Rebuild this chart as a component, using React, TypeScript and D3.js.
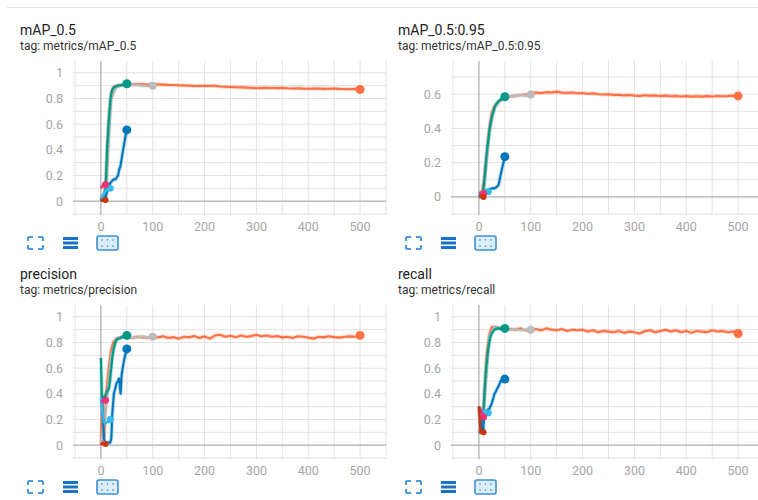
import * as d3 from "d3";

// run colours (TensorBoard palette)
const COLORS = {
  orange: "#ff7043",
  gray: "#bbbbbb",
  teal: "#009988",
  blue: "#0077bb",
  lightBlue: "#33bbee",
  pink: "#ee3377",
  red: "#cc3311",
};

const EPOCHS_LONG = [0, 3, 6, 10, 15, 20, 25, ...d3.range(30, 501, 10)];
const EPOCHS_GRAY = [0, 10, 20, 30, 40, 50, 60, 70, 80, 90, 100];
const EPOCHS_SHORT = [0, 2, 4, 6, 8, 10, 12, 14, 16, 18, 20, 22, 25, 28, 30, 33, 35, 38, 40, 42, 45, 48, 50];
const EPOCHS_LIGHT = [0, 3, 6, 9, 12, 15, 18];
const EPOCHS_TINY = [0, 3, 6, 9];

const X_TICKS = [0, 100, 200, 300, 400, 500];

// ---- mAP_0.5
const map50Orange = [0.0, 0.01, 0.03, 0.15, 0.62, 0.84, 0.89,
  0.9, 0.905, 0.91, 0.91, 0.912, 0.91, 0.908, 0.912,
  0.91, 0.908, 0.906, 0.905, 0.903, 0.902, 0.9, 0.898, 0.897, 0.899,
  0.897, 0.9, 0.894, 0.892, 0.89, 0.888, 0.887, 0.885, 0.883, 0.88,
  0.882, 0.884, 0.882, 0.881, 0.883, 0.88, 0.878, 0.879, 0.877, 0.876,
  0.878, 0.877, 0.875, 0.876, 0.877, 0.875, 0.874, 0.872, 0.875, 0.87];
const map50Gray = [0, 0.1, 0.8, 0.89, 0.9, 0.905, 0.91, 0.905, 0.9, 0.895, 0.9];
const map50Teal = [0.0, 0.01, 0.01, 0.02, 0.05, 0.2, 0.42, 0.55, 0.68, 0.78, 0.84, 0.87, 0.885, 0.893, 0.896, 0.9, 0.902, 0.904, 0.905, 0.907, 0.91, 0.915, 0.915];
const map50Blue = [0.01, 0.02, 0.02, 0.02, 0.03, 0.04, 0.08, 0.1, 0.12, 0.14, 0.15, 0.16, 0.17, 0.17, 0.18, 0.2, 0.24, 0.28, 0.33, 0.38, 0.45, 0.52, 0.555];
const map50LightBlue = [0.02, 0.04, 0.06, 0.08, 0.09, 0.1, 0.1];
const map50Pink = [0.1, 0.12, 0.13, 0.13];
const map50Red = [0.0, 0.01, 0.01, 0.01];

// ---- mAP_0.5:0.95
const map5095Orange = [0, 0.005, 0.02, 0.1, 0.25, 0.4, 0.49,
  0.53, 0.56, 0.578, 0.585, 0.59, 0.595, 0.598, 0.605,
  0.61, 0.607, 0.612, 0.61, 0.615, 0.61, 0.608, 0.61, 0.606, 0.607,
  0.603, 0.605, 0.6, 0.598, 0.6, 0.596, 0.597, 0.593, 0.595, 0.592,
  0.59, 0.594, 0.591, 0.593, 0.59, 0.592, 0.588, 0.59, 0.587, 0.589,
  0.586, 0.588, 0.586, 0.589, 0.587, 0.59, 0.588, 0.589, 0.591, 0.59];
const map5095Gray = [0, 0.05, 0.38, 0.52, 0.56, 0.575, 0.585, 0.59, 0.595, 0.59, 0.598];
const map5095Teal = [0, 0.005, 0.005, 0.01, 0.02, 0.08, 0.15, 0.22, 0.28, 0.33, 0.38, 0.42, 0.47, 0.5, 0.52, 0.54, 0.55, 0.56, 0.565, 0.57, 0.575, 0.58, 0.585];
const map5095Blue = [0.02, 0.02, 0.02, 0.02, 0.02, 0.025, 0.03, 0.035, 0.04, 0.04, 0.045, 0.045, 0.05, 0.05, 0.05, 0.055, 0.06, 0.07, 0.1, 0.13, 0.17, 0.21, 0.235];
const map5095LightBlue = [0.02, 0.025, 0.02, 0.025, 0.03, 0.03, 0.03];
const map5095Pink = [0.02, 0.02, 0.025, 0.02];
const map5095Red = [0, 0, 0.005, 0];

// ---- precision
const precOrange = [0.02, 0.33, 0.05, 0.4, 0.6, 0.75, 0.81,
  0.83, 0.845, 0.84, 0.835, 0.845, 0.84, 0.838, 0.843,
  0.84, 0.848, 0.835, 0.842, 0.83, 0.845, 0.84, 0.85, 0.835, 0.848,
  0.83, 0.855, 0.86, 0.845, 0.852, 0.84, 0.855, 0.845, 0.85, 0.86,
  0.848, 0.855, 0.845, 0.85, 0.84, 0.845, 0.835, 0.848, 0.845, 0.838,
  0.83, 0.845, 0.84, 0.848, 0.842, 0.838, 0.845, 0.848, 0.845, 0.855];
const precGray = [0.02, 0.3, 0.7, 0.83, 0.84, 0.845, 0.835, 0.84, 0.848, 0.84, 0.845];
const precTeal = [0.68, 0.37, 0.37, 0.38, 0.38, 0.4, 0.42, 0.43, 0.45, 0.52, 0.6, 0.68, 0.76, 0.8, 0.82, 0.83, 0.83, 0.835, 0.84, 0.845, 0.85, 0.855, 0.855];
const precBlue = [0.37, 0.35, 0.2, 0.05, 0.02, 0.02, 0.02, 0.02, 0.02, 0.02, 0.05, 0.25, 0.4, 0.45, 0.48, 0.5, 0.52, 0.4, 0.55, 0.6, 0.67, 0.72, 0.75];
const precLightBlue = [0.37, 0.25, 0.18, 0.17, 0.18, 0.18, 0.2];
const precPink = [0.35, 0.34, 0.35, 0.35];
const precRed = [0, 0.02, 0.01, 0.01];

// ---- recall
const recOrange = [0.1, 0.12, 0.1, 0.35, 0.7, 0.86, 0.92,
  0.92, 0.915, 0.91, 0.905, 0.9, 0.91, 0.895, 0.89,
  0.905, 0.895, 0.91, 0.9, 0.895, 0.905, 0.89, 0.9, 0.895, 0.9,
  0.885, 0.895, 0.88, 0.89, 0.885, 0.88, 0.89, 0.875, 0.885, 0.88,
  0.87, 0.888, 0.895, 0.88, 0.89, 0.9, 0.885, 0.895, 0.88, 0.89,
  0.875, 0.89, 0.885, 0.88, 0.895, 0.885, 0.89, 0.88, 0.885, 0.87];
const recGray = [0.1, 0.3, 0.85, 0.92, 0.91, 0.915, 0.9, 0.905, 0.895, 0.9, 0.9];
const recTeal = [0.1, 0.1, 0.1, 0.12, 0.2, 0.35, 0.5, 0.6, 0.68, 0.75, 0.8, 0.84, 0.87, 0.89, 0.9, 0.905, 0.91, 0.91, 0.905, 0.91, 0.905, 0.91, 0.91];
const recBlue = [0.3, 0.25, 0.15, 0.1, 0.1, 0.22, 0.25, 0.25, 0.27, 0.28, 0.28, 0.3, 0.33, 0.37, 0.4, 0.42, 0.44, 0.46, 0.48, 0.5, 0.51, 0.515, 0.515];
const recLightBlue = [0.25, 0.22, 0.25, 0.27, 0.24, 0.26, 0.25];
const recPink = [0.3, 0.28, 0.25, 0.22];
const recRed = [0.3, 0.1, 0.1, 0.1];

type Run = { color: string; x: number[]; y: number[]; dot: number };

const runs = (o, g, t, b, lb, p, r): Run[] => [
  { color: COLORS.orange, x: EPOCHS_LONG, y: o, dot: 4.5 },
  { color: COLORS.gray, x: EPOCHS_GRAY, y: g, dot: 4 },
  { color: COLORS.teal, x: EPOCHS_SHORT, y: t, dot: 4.5 },
  { color: COLORS.blue, x: EPOCHS_SHORT, y: b, dot: 4.5 },
  { color: COLORS.lightBlue, x: EPOCHS_LIGHT, y: lb, dot: 3.5 },
  { color: COLORS.pink, x: EPOCHS_TINY, y: p, dot: 3.5 },
  { color: COLORS.red, x: EPOCHS_TINY, y: r, dot: 3 },
];

const PANELS = [
  { title: "mAP_0.5", tag: "tag: metrics/mAP_0.5", yMax: 1.1, yTicks: [0, 0.2, 0.4, 0.6, 0.8, 1],
    runs: runs(map50Orange, map50Gray, map50Teal, map50Blue, map50LightBlue, map50Pink, map50Red) },
  { title: "mAP_0.5:0.95", tag: "tag: metrics/mAP_0.5:0.95", yMax: 0.8, yTicks: [0, 0.2, 0.4, 0.6],
    runs: runs(map5095Orange, map5095Gray, map5095Teal, map5095Blue, map5095LightBlue, map5095Pink, map5095Red) },
  { title: "precision", tag: "tag: metrics/precision", yMax: 1.1, yTicks: [0, 0.2, 0.4, 0.6, 0.8, 1],
    runs: runs(precOrange, precGray, precTeal, precBlue, precLightBlue, precPink, precRed) },
  { title: "recall", tag: "tag: metrics/recall", yMax: 1.1, yTicks: [0, 0.2, 0.4, 0.6, 0.8, 1],
    runs: runs(recOrange, recGray, recTeal, recBlue, recLightBlue, recPink, recRed) },
];

const FONT = "Roboto, 'Noto Sans', sans-serif";

const Icons = ({ y }) => (
  <g transform={`translate(0,${y})`}>
    {/* fullscreen corners */}
    <path d="M28,-6 h5 M28,-6 v4 M43,-6 h-5 M43,-6 v4 M28,6 h5 M28,6 v-4 M43,6 h-5 M43,6 v-4"
      stroke="#4a9be0" strokeWidth={2} fill="none" />
    {/* hamburger */}
    <rect x={63} y={-6} width={15} height={3} fill="#1a73c8" />
    <rect x={63} y={-1.5} width={15} height={3} fill="#1a73c8" />
    <rect x={63} y={3} width={15} height={3} fill="#1a73c8" />
    {/* fit box */}
    <rect x={97} y={-7} width={21} height={14} rx={2} fill="#ddeefb" stroke="#3b8fd9" strokeWidth={1.6} />
    <path d="M101,-3 h2 M112,-3 h2 M101,3 h2 M112,3 h2 M107.5,-4 v1.5 M107.5,2.5 v1.5"
      stroke="#3b8fd9" strokeWidth={1.2} />
  </g>
);

const Panel = ({ panel, dx, dy }) => {
  const x = d3.scaleLinear().domain([-50, 550]).range([75 + dx, 386 + dx]);
  const y = d3.scaleLinear().domain([-0.1, panel.yMax]).range([214 + dy, 60 + dy]);
  const line = d3.line<[number, number]>().x((d) => x(d[0])).y((d) => y(d[1]));
  const [top, bottom] = [61 + dy, 215 + dy];
  const hLines = d3.range(-0.1, panel.yMax - 0.05, 0.1);
  const vLines = d3.range(-50, 551, 50);

  return (
    <g>
      <text x={20 + dx} y={34.5 + dy} fontSize={14} fill="#222" fontFamily={FONT}>{panel.title}</text>
      <text x={20 + dx} y={49.5 + dy} fontSize={12} fill="#333" fontFamily={FONT}>{panel.tag}</text>

      {hLines.map((v) => (
        <line key={"h" + v} x1={x.range()[0] - 2} x2={x.range()[1]} y1={y(v)} y2={y(v)} stroke="#e2e2e2" />
      ))}
      {vLines.map((v) => (
        <line key={"v" + v} x1={x(v)} x2={x(v)} y1={top} y2={bottom} stroke="#e2e2e2" />
      ))}
      <line x1={x.range()[0] - 2} x2={x.range()[1]} y1={y(0)} y2={y(0)} stroke="#a8a8a8" />
      <line x1={x(0)} x2={x(0)} y1={top} y2={bottom} stroke="#a8a8a8" />

      {panel.yTicks.map((v) => (
        <text key={"yt" + v} x={x.range()[0] - 12} y={y(v)} dy="0.35em" textAnchor="end"
          fontSize={12.5} fill="#a6a6a6" fontFamily={FONT}>{v}</text>
      ))}
      {X_TICKS.map((v) => (
        <text key={"xt" + v} x={x(v)} y={231 + dy} textAnchor="middle"
          fontSize={12.5} fill="#a6a6a6" fontFamily={FONT}>{v}</text>
      ))}

      {panel.runs.map((r, i) => {
        const pts = r.x.map((e, k) => [e, r.y[k]] as [number, number]);
        const last = pts[pts.length - 1];
        return (
          <g key={"run" + i}>
            <path d={line(pts)} fill="none" stroke={r.color} strokeWidth={4} strokeOpacity={0.25} />
            <path d={line(pts)} fill="none" stroke={r.color} strokeWidth={2.1} strokeLinejoin="round" />
            <circle cx={x(last[0])} cy={y(last[1])} r={r.dot} fill={r.color} />
          </g>
        );
      })}

      <g transform={`translate(${dx},0)`}>
        <Icons y={243 + dy} />
      </g>
    </g>
  );
};

export default function App() {
  return (
    <svg width={758} height={500} style={{ position: "absolute", left: 0, top: 0, background: "#fff" }}>
      <line x1={7} x2={758} y1={7.5} y2={7.5} stroke="#e3e3e3" />
      {PANELS.map((p, i) => (
        <Panel key={p.title} panel={p} dx={(i % 2) * 378} dy={Math.floor(i / 2) * 244} />
      ))}
    </svg>
  );
}
